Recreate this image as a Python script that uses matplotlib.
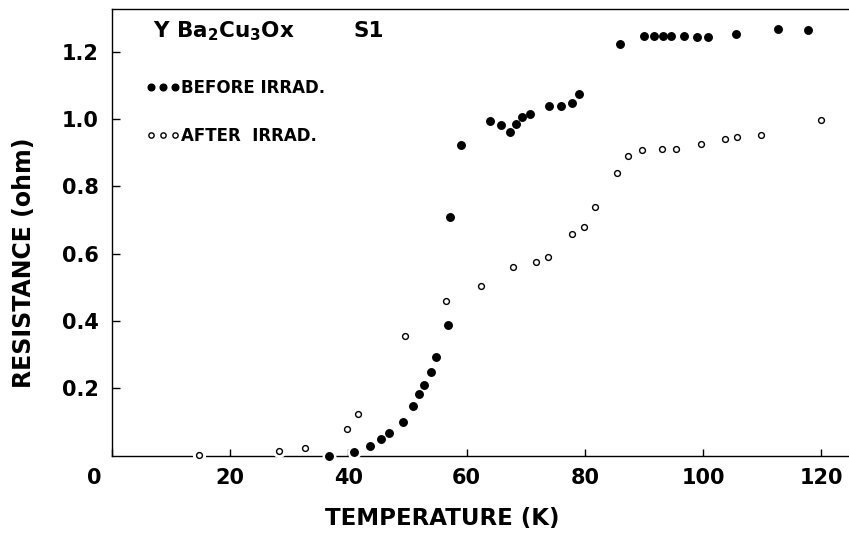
import matplotlib
matplotlib.use("Agg")
import matplotlib.pyplot as plt
from matplotlib.lines import Line2D
from matplotlib.transforms import ScaledTranslation

plt.rcParams['font.family'] = ['DejaVu Sans']
plt.rcParams['font.weight'] = 'bold'

# ---- data ----
before_T = [36.8, 41.0, 43.7, 45.5, 46.9, 49.2, 50.9, 51.9, 52.8, 54.0, 54.9, 56.8,
            57.2, 59.0, 63.9, 65.8, 67.3, 68.3, 69.3, 70.7, 73.9, 75.9, 77.8, 79.1,
            86.0, 90.0, 91.7, 93.2, 94.6, 96.8, 99.0, 100.8, 105.5, 112.7, 117.8]
before_R = [0.000, 0.010, 0.028, 0.050, 0.066, 0.099, 0.148, 0.184, 0.211, 0.250, 0.294, 0.389,
            0.709, 0.923, 0.995, 0.983, 0.960, 0.986, 1.006, 1.014, 1.039, 1.039, 1.048, 1.074,
            1.224, 1.246, 1.247, 1.246, 1.246, 1.246, 1.243, 1.243, 1.252, 1.266, 1.264]

after_T = [14.7, 28.2, 32.7, 39.8, 41.6, 49.6, 56.5, 62.4, 67.9, 71.7, 73.8, 77.8,
           79.8, 81.7, 85.5, 87.3, 89.7, 93.0, 95.5, 99.6, 103.8, 105.7, 109.8, 119.9]
after_R = [0.003, 0.014, 0.023, 0.078, 0.124, 0.356, 0.459, 0.504, 0.561, 0.574, 0.590, 0.657,
           0.678, 0.739, 0.839, 0.889, 0.908, 0.910, 0.910, 0.925, 0.941, 0.946, 0.952, 0.998]

x_ticks = [0, 20, 40, 60, 80, 100, 120]
x_tick_labels = ["0", "20", "40", "60", "80", "100", "120"]
y_ticks = [0.2, 0.4, 0.6, 0.8, 1.0, 1.2]
y_tick_labels = ["0.2", "0.4", "0.6", "0.8", "1.0", "1.2"]

W, H = 849, 535
fig = plt.figure(figsize=(W / 100, H / 100), dpi=100)
ax = fig.add_axes([112 / W, 1 - 455.7 / H, (W - 112) / W, (455.7 - 9.3) / H])
ax.set_xlim(0, (W - 112) / 5.91)
ax.set_ylim(0, (455.7 - 9.3) / 336.7)

for s in ['left', 'top', 'bottom']:
    ax.spines[s].set_linewidth(1.0)
    ax.spines[s].set_color('black')
ax.spines['right'].set_visible(False)

# white halos (break the axis line around points, as in the reference)
ax.plot(before_T, before_R, 'o', ms=9, color='white', mec='white', zorder=3, clip_on=False)
ax.plot(after_T, after_R, 'o', ms=8.5, color='white', mec='white', zorder=3, clip_on=False)
# data
ax.plot(before_T, before_R, 'o', ms=5.4, color='black', mec='black', zorder=4, clip_on=False)
ax.plot(after_T, after_R, 'o', ms=4.2, mfc='white', mec='black', mew=1.0, zorder=4, clip_on=False)

ax.set_xticks(x_ticks)
ax.set_xticklabels(x_tick_labels)
ax.set_yticks(y_ticks)
ax.set_yticklabels(y_tick_labels)
ax.tick_params(axis='x', direction='in', length=5, width=1.0, labelsize=15, pad=9)
ax.tick_params(axis='y', direction='in', length=5.5, width=1.0, labelsize=15, pad=9.5)
ax.tick_params(top=False, right=False)

# the "0" label sits left of the origin in the reference
lab0 = ax.get_xticklabels()[0]
lab0.set_transform(lab0.get_transform() + ScaledTranslation(-17.5 / 100, 0, fig.dpi_scale_trans))

ax.set_xlabel("TEMPERATURE (K)", fontsize=16.5, fontweight='bold')
ax.xaxis.set_label_coords((442.5 - 112) / 737, (455.7 - 519) / 446.4)
ax.xaxis.label.set_verticalalignment('center')

ax.set_ylabel("RESISTANCE (ohm)", fontsize=17, fontweight='bold')
ax.yaxis.set_label_coords((24 - 112) / 737, (455.7 - 262.5) / 446.4)
ax.yaxis.label.set_verticalalignment('center')

ax.text((224 - 112) / 737, (455.7 - 37.3) / 446.4, r"Y Ba$_\mathbf{2}$Cu$_\mathbf{3}$Ox",
        transform=ax.transAxes, fontsize=15.5, ha='center', va='baseline')
ax.text((369 - 112) / 737, (455.7 - 37.3) / 446.4, "S1",
        transform=ax.transAxes, fontsize=15.5, ha='center', va='baseline')

handles = [Line2D([], [], ls='none', marker='o', ms=4.8, color='black', mec='black'),
           Line2D([], [], ls='none', marker='o', ms=3.8, mfc='white', mec='black', mew=1.0)]
ax.legend(handles, ["BEFORE IRRAD.", "AFTER  IRRAD."], numpoints=3, frameon=False,
          loc='upper left', bbox_to_anchor=((146.3 - 112) / 737, (455.7 - 78.6) / 446.4),
          borderpad=0, borderaxespad=0, handlelength=2.0, handletextpad=0.1,
          labelspacing=1.8, prop={'size': 12, 'weight': 'bold'})

fig.savefig("out.png", dpi=100)
